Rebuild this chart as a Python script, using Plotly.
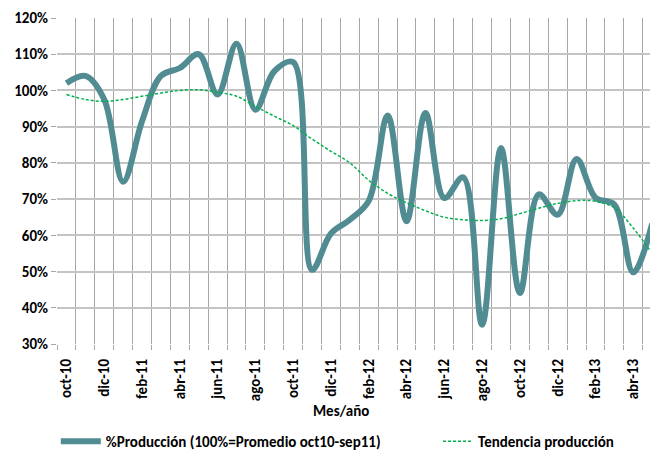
import plotly.graph_objects as go

months = ["oct-10", "nov-10", "dic-10", "ene-11", "feb-11", "mar-11", "abr-11", "may-11",
          "jun-11", "jul-11", "ago-11", "sep-11", "oct-11", "nov-11", "dic-11", "ene-12",
          "feb-12", "mar-12", "abr-12", "may-12", "jun-12", "jul-12", "ago-12", "sep-12",
          "oct-12", "nov-12", "dic-12", "ene-13", "feb-13", "mar-13", "abr-13", "may-13"]

produccion = [102.0, 104.0, 97.5, 74.8, 91.5, 104.0, 106.2, 110.0,
              98.9, 112.9, 94.7, 105.3, 107.8, 50.5, 60.5, 64.3,
              69.5, 93.1, 63.9, 93.8, 70.3, 76.0, 35.3, 84.1,
              44.1, 71.3, 65.7, 81.1, 70.4, 68.5, 49.8, 63.2]

tendencia = [98.9, 97.5, 97.0, 97.5, 98.4, 99.3, 100.0, 100.2,
             99.5, 98.4, 95.6, 92.9, 90.3, 86.6, 83.2, 80.0,
             75.2, 71.6, 69.0, 66.8, 65.0, 64.3, 64.1, 64.6,
             66.0, 67.5, 68.8, 69.6, 69.4, 67.6, 62.0, 55.0]

name_prod = "%Producción (100%=Promedio oct10-sep11)"
name_tend = "Tendencia producción"

x_idx = list(range(len(months)))
FONT = "Carlito, Calibri, 'Open Sans', sans-serif"
FS = 15

fig = go.Figure()
fig.add_trace(go.Scatter(
    x=x_idx, y=produccion, mode="lines", name=name_prod,
    line=dict(color="#528c93", width=6, shape="spline", smoothing=1.0),
    legend="legend", hoverinfo="skip"))
fig.add_trace(go.Scatter(
    x=x_idx, y=tendencia, mode="lines", name=name_tend,
    line=dict(color="#00b050", width=1.5, dash="3px,2px", shape="spline", smoothing=1.0),
    legend="legend2", hoverinfo="skip"))

# the page body has an 8px default margin, so the figure is drawn 8px smaller
fig.update_layout(
    width=650, height=442,
    margin=dict(l=49, r=0, t=10, b=106, autoexpand=False),
    paper_bgcolor="white", plot_bgcolor="white",
    font=dict(family=FONT, size=FS, color="#000000"),
    showlegend=True,
    legend=dict(orientation="h", x=-0.002, xanchor="left", y=-0.299, yanchor="middle",
                font=dict(family=FONT, size=FS, weight="bold"), itemwidth=40,
                bgcolor="rgba(0,0,0,0)"),
    legend2=dict(orientation="h", x=0.634, xanchor="left", y=-0.299, yanchor="middle",
                 font=dict(family=FONT, size=FS, weight="bold"), itemwidth=30,
                 bgcolor="rgba(0,0,0,0)"),
    annotations=[dict(text="Mes/año", x=0.473, y=-0.2055, xref="paper", yref="paper",
                      xanchor="center", yanchor="middle", showarrow=False,
                      font=dict(family=FONT, size=FS, weight="bold"))],
)

fig.update_xaxes(
    range=[-0.5, 31.31], automargin=False,
    tickvals=x_idx[::2], ticktext=months[::2], tickangle=-90,
    tickfont=dict(family=FONT, size=FS, weight="bold"),
    ticklabelstandoff=11,
    showgrid=False, ticks="", zeroline=False, showline=False,
    minor=dict(tickvals=[i - 0.5 for i in range(len(months) + 1)], showgrid=True,
               gridcolor="#a6a6a6", gridwidth=1, ticks="outside", ticklen=5,
               tickcolor="#a6a6a6"),
)
fig.update_yaxes(
    range=[30, 120], dtick=10, ticksuffix="%", automargin=False,
    tickfont=dict(family=FONT, size=FS, weight="bold"),
    showgrid=True, gridcolor="#c4c4c4", gridwidth=1.5,
    ticks="outside", ticklen=5, tickcolor="#a6a6a6",
    zeroline=False, showline=False,
)

fig.write_html("out.html")
